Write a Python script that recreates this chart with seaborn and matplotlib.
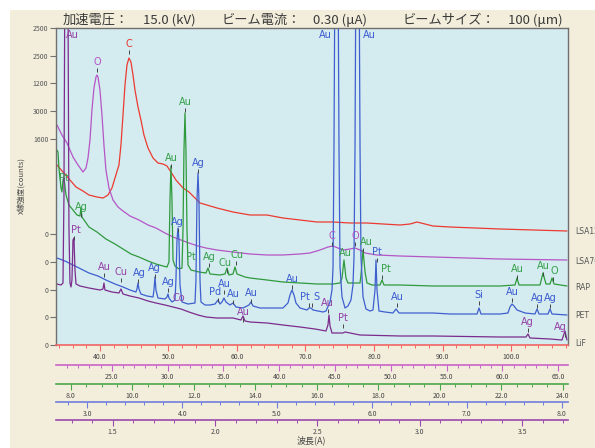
import matplotlib
matplotlib.use("Agg")
import numpy as np
import pandas as pd
import matplotlib.pyplot as plt
import seaborn as sns
from matplotlib.patches import Rectangle
from matplotlib.ticker import MultipleLocator, FormatStrFormatter, NullLocator

sns.set_theme(style="ticks")
plt.rcParams['font.family'] = ['Noto Sans CJK JP', 'DejaVu Sans']

# ---------------- data ----------------
crystals = ["LSA120", "LSA70", "RAP", "PET", "LiF"]
line_colors = {"LSA120": "#ec3a30", "LSA70": "#b556c6", "RAP": "#2f9a3c",
               "PET": "#3f5fcf", "LiF": "#7c2c8c"}
label_colors = {"LSA120": "#e8352e", "LSA70": "#b554c6", "RAP": "#34a048",
                "PET": "#3b5bd0", "LiF": "#9440a6"}

# x: position on LSA120 scale, y: stacked intensity (display offset units)
lsa120_x = [33.72, 34.60, 35.62, 36.50, 37.52, 38.39, 39.56, 40.44, 41.17, 41.75, 42.19, 42.77, 43.06,
            43.36, 43.65, 43.94, 44.23, 44.52, 44.82, 45.11, 45.55, 45.98, 46.42, 47.01, 47.74, 48.47,
            49.20, 49.78, 50.36, 51.09, 52.12, 52.99, 54.60, 57.08, 59.42, 61.90, 64.38, 66.71, 69.20,
            71.68, 74.02, 76.50, 78.98, 81.31, 83.80, 85.26, 86.28, 87.45, 88.61, 91.10, 98.40, 108.17]
lsa120_y = [182, 175, 167, 160, 156, 152, 150, 149, 152, 159, 169, 182, 202,
            232, 262, 282, 289, 285, 272, 257, 240, 227, 212, 199, 189, 184,
            183, 181, 175, 167, 159, 155, 144, 139, 135, 132, 132, 129, 127,
            125, 125, 124, 124, 123, 122, 123, 125, 123, 121, 120, 118, 116]

lsa70_x = [33.72, 34.45, 35.18, 36.06, 36.79, 37.52, 37.96, 38.25, 38.54, 38.83, 39.12, 39.42, 39.56,
           39.71, 40.00, 40.29, 40.58, 40.87, 41.31, 41.90, 42.63, 43.36, 44.38, 45.69, 47.01, 48.17,
           49.49, 50.66, 51.82, 52.99, 54.31, 55.47, 57.08, 59.42, 61.90, 64.38, 66.71, 69.20, 70.66,
           72.12, 73.28, 74.02, 74.74, 75.47, 76.50, 77.23, 77.96, 78.69, 80.44, 83.80, 88.61, 98.40, 108.17]
lsa70_y = [222, 212, 204, 190, 182, 175, 179, 189, 207, 237, 259, 270, 272,
           270, 257, 232, 202, 177, 159, 147, 140, 136, 131, 127, 122, 119,
           114, 110, 107, 104, 101, 99, 97, 95, 93, 92, 92, 93, 94,
           97, 100, 101, 99, 97, 98, 99, 97, 94, 92, 91, 90, 88, 87]

rap_x = [33.72, 33.87, 34.01, 34.31, 34.45, 34.60, 34.74, 35.04, 35.47, 36.06, 36.64, 37.08, 37.23,
         37.37, 38.39, 39.56, 40.87, 42.19, 43.36, 44.52, 45.69, 47.01, 48.17, 49.20, 49.78, 50.07,
         50.22, 50.36, 50.51, 50.66, 50.95, 51.53, 51.97, 52.12, 52.26, 52.41, 52.55, 52.70, 52.85,
         53.28, 54.45, 55.47, 55.77, 56.06, 57.52, 58.25, 58.54, 58.83, 59.42, 59.71, 60.00, 61.17,
         61.90, 64.38, 66.71, 69.20, 71.68, 74.02, 75.04, 75.33, 75.62, 75.91, 76.20, 77.96, 78.10,
         78.40, 78.69, 78.98, 79.71, 80.88, 81.17, 81.46, 83.80, 88.61, 98.40, 100.58, 100.88, 101.17,
         104.23, 104.67, 105.11, 105.69, 105.99, 106.28, 108.17]
rap_y = [197, 195, 179, 159, 155, 167, 169, 152, 142, 137, 132, 131, 139,
         130, 120, 115, 108, 103, 98, 93, 90, 86, 83, 81, 80, 85,
         147, 181, 147, 87, 81, 78, 79, 117, 197, 234, 197, 117, 82,
         77, 75, 74, 79, 73, 72, 73, 79, 72, 73, 80, 73, 70,
         69, 67, 65, 64, 63, 63, 64, 69, 87, 69, 64, 64, 72,
         97, 75, 64, 62, 62, 67, 62, 62, 61, 61, 62, 69, 62,
         62, 74, 63, 63, 69, 63, 61]

pet_x = [33.72, 34.89, 36.06, 37.23, 38.39, 39.71, 40.87, 42.19, 43.36, 44.38, 45.25, 45.40, 45.55,
         45.69, 45.98, 46.86, 47.74, 47.88, 48.03, 48.17, 48.47, 49.49, 49.78, 49.93, 50.07, 50.51,
         50.95, 51.09, 51.24, 51.39, 51.53, 51.68, 51.97, 52.85, 53.87, 54.01, 54.16, 54.31, 54.45,
         54.60, 54.74, 55.33, 56.06, 56.79, 57.23, 57.52, 57.81, 58.10, 58.39, 58.98, 59.42, 59.85,
         60.88, 61.75, 62.04, 62.34, 63.36, 64.82, 66.71, 67.44, 67.74, 68.03, 68.32, 68.61, 69.20,
         70.22, 70.51, 70.80, 71.10, 72.56, 72.99, 73.58, 73.87, 74.02, 74.16, 74.31, 74.45, 74.60,
         74.74, 74.89, 75.04, 75.33, 75.77, 76.20, 76.64, 76.93, 77.08, 77.23, 77.37, 77.52, 77.67,
         77.81, 77.96, 78.10, 78.40, 78.83, 79.42, 79.85, 80.15, 80.29, 80.44, 80.73, 81.61, 82.77,
         83.21, 83.65, 85.26, 88.61, 91.10, 95.04, 95.33, 95.62, 98.40, 99.56, 99.85, 100.15, 100.44,
         100.88, 102.05, 103.50, 103.80, 104.09, 105.40, 105.69, 105.99, 108.17]
pet_y = [89, 86, 82, 78, 74, 71, 67, 63, 60, 57, 55, 58, 64,
         58, 53, 51, 50, 57, 70, 57, 49, 48, 50, 53, 49, 45,
         47, 67, 107, 119, 107, 62, 45, 43, 44, 67, 147, 174, 147,
         67, 45, 42, 42, 43, 47, 43, 45, 49, 45, 42, 44, 40,
         39, 42, 45, 41, 39, 39, 39, 44, 52, 57, 52, 44, 39,
         37, 39, 39, 37, 35, 36, 45, 57, 80, 200, 400, 600, 600,
         400, 200, 80, 50, 39, 41, 47, 62, 90, 200, 400, 600, 600,
         400, 200, 90, 50, 38, 36, 37, 57, 87, 57, 36, 35, 34,
         38, 34, 34, 34, 33, 33, 39, 33, 33, 34, 40, 43, 41,
         37, 34, 33, 38, 33, 33, 38, 33, 32]

lif_x = [33.72, 34.31, 34.60, 34.74, 34.89, 35.04, 35.18, 35.33, 35.47, 35.62, 35.77, 35.91, 36.06,
         36.20, 36.35, 36.50, 37.08, 38.39, 40.00, 40.44, 40.58, 40.73, 41.75, 42.77, 43.06, 43.36,
         44.38, 45.69, 47.01, 48.17, 49.49, 50.66, 51.82, 52.99, 54.31, 55.47, 57.08, 59.42, 60.58,
         60.88, 61.17, 61.90, 64.38, 66.71, 69.20, 71.39, 72.99, 73.28, 73.43, 73.58, 73.87, 75.47,
         75.77, 77.96, 83.80, 88.61, 98.40, 102.19, 102.48, 102.77, 105.69, 107.44, 107.88, 108.17]
lif_y = [63, 62, 64, 150, 400, 600, 600, 350, 120, 64, 60, 67, 107,
         109, 77, 63, 61, 59, 57, 58, 64, 57, 55, 54, 58, 53,
         51, 49, 46, 44, 42, 40, 38, 35, 32, 30, 29, 29, 27,
         31, 26, 25, 24, 22, 20, 18, 16, 22, 32, 21, 14, 14,
         15, 12, 11, 11, 10, 10, 13, 9, 8, 7, 16, 7]

# peak labels
label_text = ["C",
              "O", "C", "O",
              "Pt", "Ag", "Au", "Au", "Pt", "Ag", "Cu", "Cu", "Au", "Au", "Pt", "Au", "Au", "O",
              "Au", "Au", "Ag", "Ag", "Ag", "Ag", "Ag", "Pd", "Au", "Au", "Au", "Au", "Pt", "S",
              "Pt", "Au", "Si", "Au", "Ag", "Ag",
              "Au", "Pt", "Au", "Cu", "Co", "Au", "Au", "Pt", "Ag", "Ag"]
label_series = (["LSA120"] + ["LSA70"] * 3 + ["RAP"] * 14 + ["PET"] * 20 + ["LiF"] * 10)
label_x = [44.23,
           39.56, 73.87, 77.23,
           34.74, 37.23, 50.36, 52.41, 53.28, 55.91, 58.25, 60.00, 75.77, 78.83, 81.75, 100.88, 104.67, 106.28,
           72.85, 79.27, 45.69, 47.88, 49.93, 51.24, 54.31, 56.79, 58.10, 59.42, 62.04, 68.03, 69.93, 71.53,
           80.44, 83.36, 95.33, 100.15, 103.80, 105.69,
           35.91, 36.50, 40.58, 43.06, 51.53, 60.88, 73.14, 75.47, 102.34, 107.15]
label_y = [303,
           285, 111, 111,
           169, 140, 189, 245, 90, 90, 84, 92, 94, 105, 78, 78, 81, 76,
           312, 312, 74, 79, 65, 125, 184, 55, 63, 53, 54, 68, 50, 50,
           95, 50, 52, 55, 49, 49,
           312, 117, 80, 75, 49, 35, 44, 29, 25, 20]
tick_x = [44.23,
          39.56, 73.87, 77.23,
          np.nan, 37.23, 50.36, 52.41, np.nan, 55.91, 58.54, 59.85, np.nan, 78.40, 81.17, 100.88, 104.67, 106.13,
          np.nan, np.nan, 45.55, 48.03, 49.93, 51.39, 54.31, 57.23, 58.10, 59.42, 62.04, 68.03, 70.51, 70.95,
          80.44, 83.36, 95.33, 100.15, 103.80, 105.69,
          np.nan, 36.20, 40.58, 43.06, np.nan, 60.88, 73.28, 75.47, 102.48, 107.88]

# axes
y_tick_pos = [319, 291, 264, 236, 208, 113, 85, 57, 30, 2]
y_tick_labels = ["2500", "2500", "1200", "3000", "1600", "0", "0", "0", "0", "0"]
right_label_y = [115, 86, 60, 31, 4]
right_label_text = ["LSA120", "LSA70", "RAP", "PET", "LiF"]

axis_lo = [33.58, 20.01, 7.512, 2.670, 1.2232]
axis_hi = [108.32, 65.87, 24.17, 8.066, 3.7231]
axis_major = [10, 5, 2, 1, 0.5]
axis_minor = [2, 1, 0.5, 0.2, 0.1]
axis_color = ["#f06464", "#c863c8", "#4aa84a", "#6f7ddc", "#9a48ac"]
axis_loc = [0.0, -0.0631, -0.1230, -0.1798, -0.2366]

header_text = ["加速電圧：", "15.0 (kV)", "ビーム電流：", "0.30 (μA)", "ビームサイズ：", "100 (μm)"]
header_x = [63, 143, 222, 313, 403, 508]

# ---------------- figure ----------------
W, H = 595, 448
fig = plt.figure(figsize=(W / 100, H / 100), dpi=100)
fig.patch.set_facecolor("white")
fig.add_artist(Rectangle((10 / W, 0), 1 - 10 / W, 1 - 10 / H, transform=fig.transFigure,
                         facecolor="#f3eedb", edgecolor="none", zorder=-10))

ax = fig.add_axes([56 / W, 1 - 345 / H, 512 / W, 317 / H])
ax.set_facecolor("#d4ebf0")

series = {"LSA120": (lsa120_x, lsa120_y), "LSA70": (lsa70_x, lsa70_y), "RAP": (rap_x, rap_y),
          "PET": (pet_x, pet_y), "LiF": (lif_x, lif_y)}
df = pd.concat([pd.DataFrame({"pos": x, "intensity": y, "crystal": k}) for k, (x, y) in series.items()],
               ignore_index=True)
sns.lineplot(data=df, x="pos", y="intensity", hue="crystal", hue_order=crystals, palette=line_colors,
             sort=False, estimator=None, legend=False, linewidth=0.9, ax=ax)

x_lo, x_hi = axis_lo[0], axis_hi[0]
ax.set_xlim(x_lo, x_hi)
ax.set_ylim(2, 319)
ax.set_xlabel("")
ax.set_ylabel("")

# peak labels and small marker ticks
for t, s, x, y, tx in zip(label_text, label_series, label_x, label_y, tick_x):
    ax.text(x, y, t, color=label_colors[s], fontsize=7, family="DejaVu Sans",
            ha="center", va="center", zorder=5)
    if not np.isnan(tx):
        ax.vlines(tx, y - 6, y - 10, color="#444444", lw=0.7, zorder=5)

# spines
for sp in ["left", "top", "right"]:
    ax.spines[sp].set_color("#707070")
    ax.spines[sp].set_linewidth(1.0)
ax.spines["bottom"].set_color(axis_color[0])
ax.spines["bottom"].set_linewidth(1.2)

ax.set_yticks(y_tick_pos)
ax.set_yticklabels(y_tick_labels)
ax.yaxis.set_minor_locator(NullLocator())
ax.tick_params(axis="y", which="major", length=4, width=0.8, color="#707070",
               labelsize=5, labelcolor="#555555", pad=1.5, left=True)

ax.xaxis.set_major_locator(MultipleLocator(axis_major[0]))
ax.xaxis.set_minor_locator(MultipleLocator(axis_minor[0]))
ax.xaxis.set_major_formatter(FormatStrFormatter("%.1f"))
ax.tick_params(axis="x", which="major", length=4.3, width=0.8, color=axis_color[0],
               labelsize=5, labelcolor="#444444", pad=1.5, bottom=True)
ax.tick_params(axis="x", which="minor", length=2.2, width=0.7, color=axis_color[0], bottom=True)

for i in range(1, 5):
    lo, hi = axis_lo[i], axis_hi[i]

    def fwd(v, lo=lo, hi=hi):
        return lo + (np.asarray(v, dtype=float) - x_lo) * (hi - lo) / (x_hi - x_lo)

    def inv(s, lo=lo, hi=hi):
        return x_lo + (np.asarray(s, dtype=float) - lo) * (x_hi - x_lo) / (hi - lo)

    sec = ax.secondary_xaxis(axis_loc[i], functions=(fwd, inv))
    sec.spines["bottom"].set_color(axis_color[i])
    sec.spines["bottom"].set_linewidth(1.2)
    sec.xaxis.set_major_locator(MultipleLocator(axis_major[i]))
    sec.xaxis.set_minor_locator(MultipleLocator(axis_minor[i]))
    sec.xaxis.set_major_formatter(FormatStrFormatter("%.1f"))
    sec.tick_params(axis="x", which="major", length=4.3, width=0.8, color=axis_color[i],
                    labelsize=5, labelcolor="#444444", pad=1.5)
    sec.tick_params(axis="x", which="minor", length=2.2, width=0.7, color=axis_color[i])

# right crystal labels
for t, y in zip(right_label_text, right_label_y):
    ax.text(1.015, y, t, transform=ax.get_yaxis_transform(), fontsize=5.5, family="DejaVu Sans",
            color="#555555", va="center", ha="left", clip_on=False)

# header
for t, x in zip(header_text, header_x):
    fig.text(x / W, 1 - 20 / H, t, fontsize=9.5, color="#3a3a3a", ha="left", va="center")

fig.text(22 / W, 1 - 186 / H, "X線強度(counts)", rotation=90, fontsize=5.5, color="#444444",
         ha="center", va="center")
fig.text(311 / W, 1 - 440 / H, "波長(A)", fontsize=6.5, color="#444444", ha="center", va="center")

fig.savefig("out.png", dpi=100)
